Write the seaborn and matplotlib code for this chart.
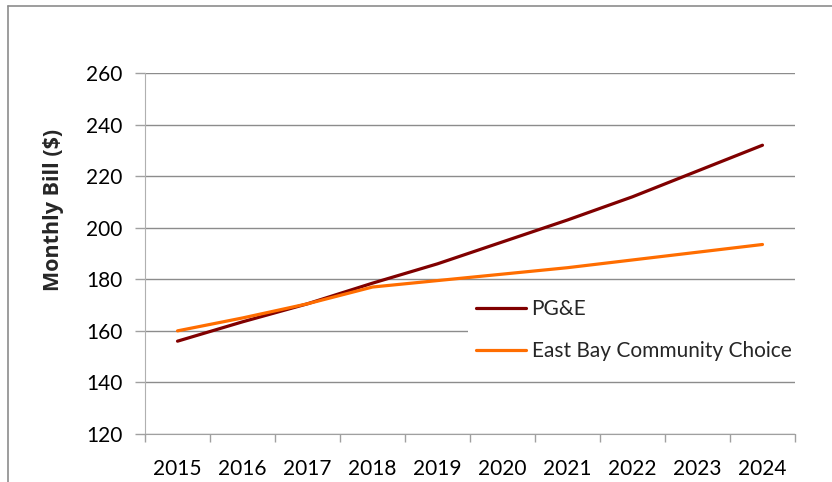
import pandas as pd
import seaborn as sns
import matplotlib.pyplot as plt
from matplotlib.ticker import FixedLocator
from matplotlib.lines import Line2D

# Dados
anos = [2015, 2016, 2017, 2018, 2019, 2020, 2021, 2022, 2023, 2024]
pge = [156, 163.5, 170.5, 178.5, 186, 194.5, 203, 212, 222, 232]
east_bay = [160, 165, 170.5, 177, 179.5, 182, 184.5, 187.5, 190.5, 193.5]
series = ["PG&E", "East Bay Community Choice"]
cores = ["#800000", "#FF6D00"]
y_ticks = [120, 140, 160, 180, 200, 220, 240, 260]

df = pd.DataFrame({
    "ano": anos * 2,
    "conta": pge + east_bay,
    "serie": [series[0]] * len(anos) + [series[1]] * len(anos),
})

sns.set_style("white")
plt.rcParams["font.family"] = ["Lato", "DejaVu Sans"]

fig = plt.figure(figsize=(8.32, 4.82), dpi=100)
ax = fig.add_axes([0.1743, 0.0996, 0.7812, 0.7489])

sns.lineplot(data=df, x="ano", y="conta", hue="serie", palette=cores,
             linewidth=2.3, ax=ax, legend=False, zorder=3)

ax.set_xlim(2014.5, 2024.5)
ax.set_ylim(120, 260)
ax.set_yticks(y_ticks)
ax.set_xticks(anos)
ax.set_xticklabels([str(a) for a in anos])
ax.xaxis.set_minor_locator(FixedLocator([a - 0.5 for a in anos] + [2024.5]))
ax.tick_params(axis="x", which="major", length=0, pad=18, labelsize=15, labelcolor="black")
ax.tick_params(axis="x", which="minor", length=6, width=1, color="#a0a0a0", bottom=True)
ax.tick_params(axis="y", which="major", length=7, width=1, color="#a0a0a0", left=True,
               pad=9, labelsize=15, labelcolor="black")

ax.grid(axis="y", color="#8c8c8c", linewidth=1)
ax.grid(axis="x", visible=False)
for lado in ["top", "right"]:
    ax.spines[lado].set_visible(False)
ax.spines["left"].set_color("#b0b0b0")
ax.spines["bottom"].set_color("#a0a0a0")

ax.set_xlabel("")
ax.set_ylabel("Monthly Bill ($)", fontsize=15.5, fontweight="bold",
              family=["Open Sans", "DejaVu Sans"])
ax.yaxis.set_label_coords(-0.124, 0.62)

handles = [Line2D([], [], color=c, linewidth=2.3) for c in cores]
leg = ax.legend(handles, series, loc="upper left", bbox_to_anchor=(0.497, 0.396),
                frameon=True, fontsize=15, handlelength=2.4, handletextpad=0.25,
                labelspacing=1.05, borderpad=0.4, borderaxespad=0)
leg.get_frame().set_facecolor("white")
leg.get_frame().set_edgecolor("none")
leg.get_frame().set_alpha(1)
leg.set_zorder(4)

# moldura externa
fig.add_artist(Line2D([0.0096, 0.0096], [0.0, 0.988], transform=fig.transFigure,
                      color="#8c8c8c", linewidth=1.2))
fig.add_artist(Line2D([0.0096, 1.0], [0.988, 0.988], transform=fig.transFigure,
                      color="#8c8c8c", linewidth=1.2))

plt.savefig("out.png", dpi=100)
plt.close()
